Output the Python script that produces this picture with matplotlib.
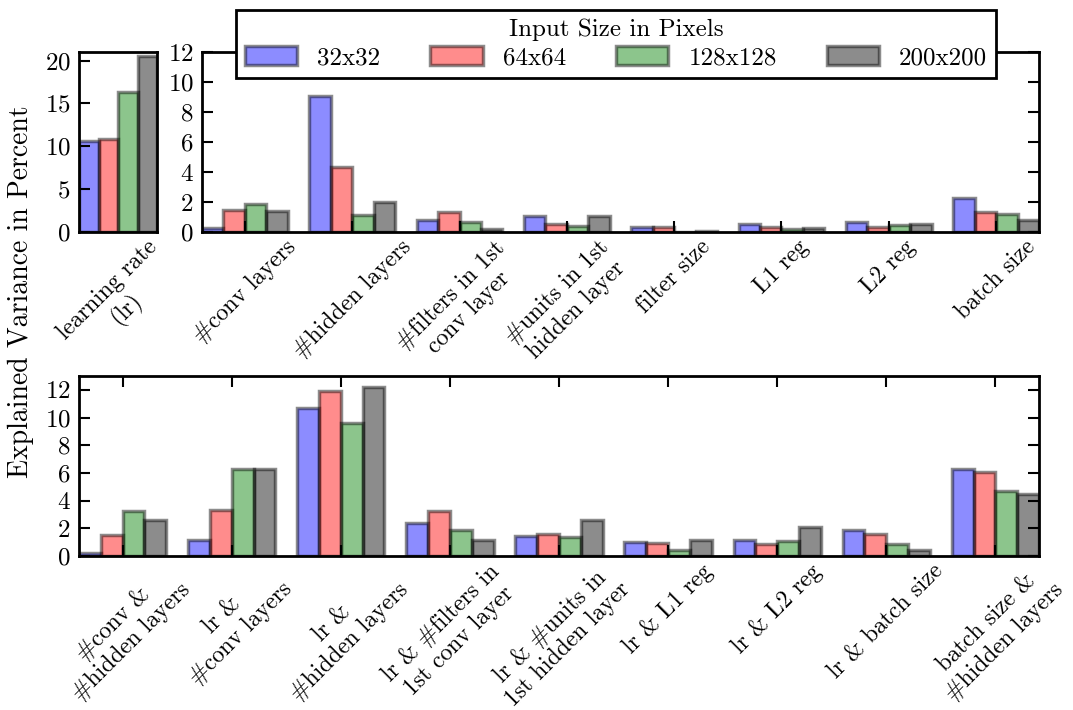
import numpy as np
import matplotlib
matplotlib.use("Agg")
import matplotlib.pyplot as plt

plt.rcParams['font.family'] = ['cmr10', 'DejaVu Serif']
plt.rcParams['mathtext.fontset'] = 'cm'
plt.rcParams['axes.formatter.use_mathtext'] = True
plt.rcParams['font.size'] = 18

# series names and colours
sizes = ["32x32", "64x64", "128x128", "200x200"]
colors = ["b", "r", "g", "k"]

# learning rate alone
lr_vals = [10.6, 10.8, 16.3, 20.5]

# single hyperparameters
single_labels = ["#conv layers", "#hidden layers", "#filters in 1st\nconv layer",
                 "#units in 1st\nhidden layer", "filter size", "L1 reg", "L2 reg",
                 "batch size"]
single_32 = [0.25, 9.07, 0.82, 1.04, 0.33, 0.53, 0.67, 2.27]
single_64 = [1.44, 4.31, 1.31, 0.56, 0.33, 0.33, 0.36, 1.33]
single_128 = [1.84, 1.13, 0.67, 0.42, 0.02, 0.20, 0.49, 1.18]
single_200 = [1.40, 2.02, 0.22, 1.09, 0.09, 0.29, 0.53, 0.78]

# pairwise interactions
pair_labels = ["#conv &\n#hidden layers", "lr &\n#conv layers", "lr &\n#hidden layers",
               "lr & #filters in\n1st conv layer", "lr & #units in\n1st hidden layer",
               "lr & L1 reg", "lr & L2 reg", "lr & batch size",
               "batch size &\n#hidden layers"]
pair_32 = [0.24, 1.16, 10.72, 2.41, 1.47, 1.04, 1.16, 1.88, 6.31]
pair_64 = [1.49, 3.33, 11.95, 3.23, 1.61, 0.92, 0.87, 1.57, 6.10]
pair_128 = [3.23, 6.27, 9.59, 1.90, 1.40, 0.46, 1.06, 0.87, 4.72]
pair_200 = [2.63, 6.27, 12.17, 1.16, 2.58, 1.13, 2.12, 0.41, 4.46]

W, H = 1073, 710
fig = plt.figure(figsize=(W / 100, H / 100), dpi=100)

def px(l, t, r, b):
    return [l / W, 1 - b / H, (r - l) / W, (b - t) / H]

ax_lr = fig.add_axes(px(79, 52, 157, 232))
ax_single = fig.add_axes(px(202, 52, 1039, 232))
ax_pair = fig.add_axes(px(79, 376, 1039, 556))

bw = 0.2
lab_kw = dict(rotation=45, ha='center', multialignment='center',
              linespacing=1.2, fontsize=17)

def draw_groups(ax, series, labels):
    n = len(series[0])
    x = np.arange(n)
    handles = []
    for j, vals in enumerate(series):
        h = ax.bar(x + j * bw, vals, bw, align='edge', color=colors[j], alpha=0.45,
                   edgecolor='k', linewidth=2.5, label=sizes[j])
        handles.append(h)
    ax.set_xticks(x + 2 * bw)
    ax.set_xticklabels(labels, **lab_kw)
    ax.set_xlim(0, n - 1 + 4 * bw)
    for s in ax.spines.values():
        s.set_linewidth(2)
    ax.tick_params(direction='in', length=8, width=1.5, top=True, right=True, pad=6)
    ax.tick_params(axis='x', pad=3)
    return handles

# learning rate panel
for j, v in enumerate(lr_vals):
    ax_lr.bar(j * bw, v, bw, align='edge', color=colors[j], alpha=0.45,
              edgecolor='k', linewidth=2.5)
ax_lr.set_xlim(0, 4 * bw)
ax_lr.set_ylim(0, 21)
ax_lr.set_yticks([0, 5, 10, 15, 20])
ax_lr.set_xticks([2 * bw])
ax_lr.set_xticklabels(["learning rate\n(lr)"], **lab_kw)
for s in ax_lr.spines.values():
    s.set_linewidth(2)
ax_lr.tick_params(direction='in', length=8, width=1.5, pad=6)
ax_lr.tick_params(axis='x', length=0, pad=3)

handles = draw_groups(ax_single, [single_32, single_64, single_128, single_200], single_labels)
ax_single.set_ylim(0, 12)
ax_single.set_yticks(np.arange(0, 13, 2))

draw_groups(ax_pair, [pair_32, pair_64, pair_128, pair_200], pair_labels)
ax_pair.set_ylim(0, 13)
ax_pair.set_yticks(np.arange(0, 13, 2))

fig.text(21 / W, 1 - 292 / H, "Explained Variance in Percent", rotation=90,
         ha='center', va='center', fontsize=20)

leg = fig.legend(handles, sizes, title="Input Size in Pixels", ncol=4,
                 loc='upper center', bbox_to_anchor=(616 / W, 1 - 10 / H),
                 fancybox=False, framealpha=1, edgecolor='k',
                 handlelength=2.1, handleheight=0.75, columnspacing=2.0,
                 handletextpad=0.8, borderpad=0.35, labelspacing=0.2,
                 borderaxespad=0)
leg.get_frame().set_linewidth(2)
leg.get_title().set_fontsize(18)

fig.savefig("out.png", dpi=100)
